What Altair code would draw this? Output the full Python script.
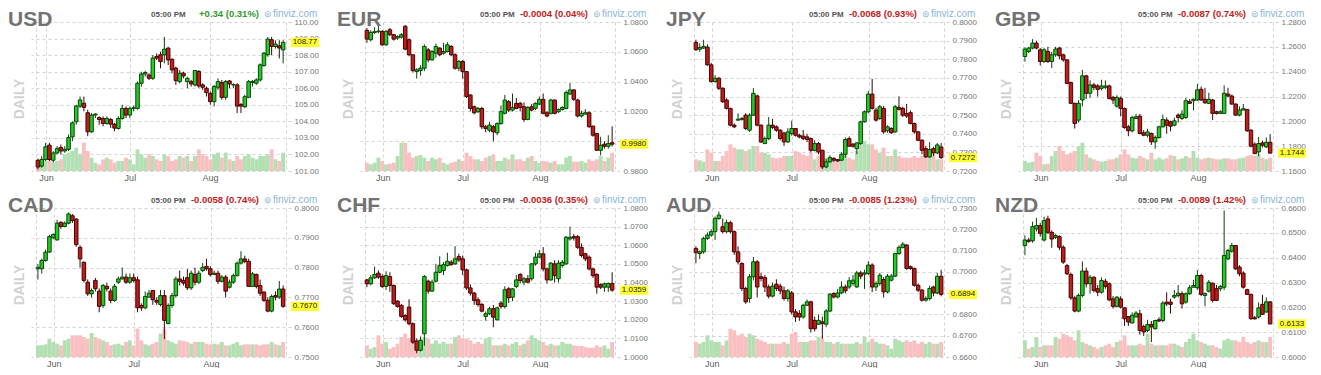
import altair as alt
import pandas as pd

FONT = "Liberation Sans"
W, H = 260, 149
XDOM = [-0.5, 64.75]

# ---------------- USD ----------------
USD_OPEN = [101.65,101.3,101.7,102.56,101.65,102.09,102.42,102.21,102.31,103.06,
            103.97,104.92,105.09,104.52,103.37,104.38,104.22,104.17,103.87,104.11,
            103.83,103.57,104.17,104.78,104.38,104.78,104.78,106.30,106.86,106.80,
            106.60,107.92,108.02,108.02,108.42,107.75,107.21,106.40,106.91,106.40,
            106.40,106.20,107.01,106.20,106.0,105.69,105.19,106.06,106.34,105.45,
            106.44,106.20,106.20,105.02,104.88,105.45,106.34,106.30,106.50,107.37,
            108.02,108.93,108.52,108.56,108.32]
USD_CLOSE = [101.24,101.7,102.46,101.69,102.09,102.35,102.21,102.31,103.02,103.91,
             104.92,105.29,104.84,103.37,104.38,104.44,104.11,103.87,104.17,103.83,
             103.59,104.17,104.78,104.38,104.78,104.82,106.30,106.86,106.95,106.60,
             107.82,107.82,107.61,108.36,107.71,107.11,106.46,106.91,106.74,106.60,
             106.26,107.07,106.14,106.06,105.73,105.19,106.10,106.40,105.45,106.40,
             106.26,106.21,104.92,104.92,105.49,106.40,106.40,106.50,107.41,108.12,
             108.97,108.52,108.67,108.43,108.77]
USD_HIGH = [101.75,101.9,102.7,102.7,102.2,102.5,102.6,102.5,103.2,104.0,
            105.0,105.5,105.5,104.7,104.5,104.5,104.3,104.3,104.3,104.2,
            103.9,104.3,105.0,104.9,104.9,104.95,106.4,107.0,107.05,106.9,
            108.0,108.1,108.2,109.1,108.5,107.8,107.3,107.1,107.0,106.7,
            106.5,107.1,107.1,106.3,106.1,105.8,106.2,106.6,106.5,106.5,
            106.5,106.3,106.3,105.1,105.6,106.5,106.5,106.6,107.5,108.2,
            109.1,109.1,108.9,108.9,108.9]
USD_LOW = [101.1,101.2,101.6,101.6,101.5,102.0,102.0,102.1,102.2,102.8,
           103.8,104.8,104.6,103.1,103.3,104.2,103.8,103.7,103.8,103.6,
           103.4,103.5,104.1,104.2,104.2,104.6,104.7,106.1,106.7,106.5,
           106.5,107.7,107.2,107.5,107.4,106.9,106.2,106.3,106.6,106.0,
           106.1,106.1,106.0,105.9,105.5,105.0,104.9,105.9,105.3,105.3,
           106.0,106.0,104.5,104.5,104.8,105.4,106.1,106.2,106.4,107.3,
           107.9,108.0,108.4,107.8,107.5]
USD_VOL = [24,27,30,30,25,30,35,50,55,60, 70,50,85,60,40,25,20,35,40,35,
           25,30,30,40,35,20,65,50,40,50, 45,35,30,50,45,30,35,45,40,45,
           30,45,65,50,45,35,50,55,40,55, 35,30,45,35,45,50,40,35,45,45,
           50,65,35,30,55]
USD_TICKS = [101,102,103,104,105,106,107,108,109,110]

# ---------------- EUR ----------------
EUR_OPEN = [1.0744,1.0681,1.0730,1.0735,1.0737,1.0647,1.0748,1.0715,1.0692,1.0699,
            1.0771,1.0681,1.0580,1.0467,1.0474,1.0490,1.0613,1.0546,1.0591,1.0625,
            1.0591,1.0602,1.0636,1.0580,1.0490,1.0535,1.0467,1.0310,1.0231,1.0198,
            1.0220,1.0097,1.0074,1.0097,1.0056,1.0119,1.0187,1.0265,1.0209,1.0254,
            1.0254,1.0231,1.0146,1.0231,1.0220,1.0249,1.0281,1.0191,1.0187,1.0276,
            1.0198,1.0213,1.0220,1.0317,1.0344,1.0276,1.0169,1.0182,1.0191,1.0101,
            1.0052,0.9939,0.9980,0.9966,0.9990]
EUR_CLOSE = [1.0685,1.0730,1.0735,1.0739,1.0647,1.0737,1.0715,1.0685,1.0703,1.0715,
             1.0618,1.0580,1.0474,1.0479,1.0490,1.0636,1.0546,1.0602,1.0636,1.0580,
             1.0602,1.0647,1.0580,1.0490,1.0535,1.0467,1.0299,1.0220,1.0191,1.0220,
             1.0097,1.0085,1.0108,1.0063,1.0119,1.0198,1.0276,1.0209,1.0227,1.0220,
             1.0227,1.0146,1.0227,1.0209,1.0254,1.0281,1.0187,1.0169,1.0276,1.0187,
             1.0213,1.0227,1.0326,1.0344,1.0281,1.0169,1.0187,1.0191,1.0097,1.0040,
             0.9939,0.9973,0.9966,0.9984,0.9980]
EUR_HIGH = [1.0760,1.0745,1.0765,1.0780,1.0745,1.0745,1.0760,1.0720,1.0710,1.0725,
            1.0780,1.0690,1.0580,1.0490,1.0510,1.0650,1.0625,1.0610,1.0655,1.0630,
            1.0660,1.0665,1.0645,1.0590,1.0545,1.0545,1.0470,1.0315,1.0240,1.0230,
            1.0230,1.0110,1.0130,1.0110,1.0125,1.0240,1.0310,1.0275,1.0320,1.0290,
            1.0265,1.0260,1.0235,1.0250,1.0260,1.0300,1.0320,1.0200,1.0285,1.0280,
            1.0220,1.0235,1.0340,1.0390,1.0350,1.0285,1.0205,1.0215,1.0200,1.0105,
            1.0055,1.0030,1.0000,1.0040,1.0100]
EUR_LOW = [1.0660,1.0670,1.0720,1.0725,1.0640,1.0640,1.0705,1.0675,1.0680,1.0690,
           1.0610,1.0570,1.0460,1.0420,1.0440,1.0470,1.0530,1.0540,1.0560,1.0570,
           1.0580,1.0595,1.0570,1.0480,1.0470,1.0420,1.0290,1.0200,1.0180,1.0190,
           1.0080,1.0060,1.0060,1.0000,1.0040,1.0110,1.0180,1.0195,1.0200,1.0215,
           1.0200,1.0130,1.0140,1.0200,1.0210,1.0240,1.0180,1.0160,1.0180,1.0180,
           1.0190,1.0205,1.0215,1.0310,1.0270,1.0160,1.0160,1.0180,1.0090,1.0030,
           0.9935,0.9905,0.9950,0.9950,0.9965]
EUR_VOL = [25,20,25,40,30,20,22,25,45,85, 85,55,40,45,48,40,30,40,35,40,
           25,20,25,28,35,30,55,45,35,35, 30,40,45,50,30,30,40,35,50,35,
           35,30,40,45,30,25,30,28,25,30, 20,20,40,45,28,28,30,25,35,30,
           35,45,30,40,55]
EUR_TICKS = [0.98,1.00,1.02,1.04,1.06,1.08]

# ---------------- JPY ----------------
JPY_OPEN = [0.7890,0.7854,0.7860,0.7865,0.7770,0.7680,0.7698,0.7644,0.7581,0.7536,
            0.7446,0.7473,0.7477,0.7500,0.7419,0.7500,0.7603,0.7446,0.7347,0.7374,
            0.7446,0.7437,0.7419,0.7404,0.7356,0.7401,0.7428,0.7392,0.7387,0.7383,
            0.7374,0.7311,0.7347,0.7311,0.7222,0.7249,0.7267,0.7261,0.7258,0.7290,
            0.7374,0.7344,0.7320,0.7347,0.7464,0.7518,0.7613,0.7527,0.7482,0.7536,
            0.7416,0.7428,0.7410,0.7542,0.7536,0.7509,0.7513,0.7455,0.7410,0.7365,
            0.7320,0.7276,0.7320,0.7297,0.7329]
JPY_CLOSE = [0.7851,0.7863,0.7869,0.7770,0.7680,0.7698,0.7644,0.7572,0.7536,0.7446,
             0.7437,0.7478,0.7482,0.7428,0.7500,0.7617,0.7446,0.7356,0.7374,0.7446,
             0.7434,0.7419,0.7374,0.7356,0.7410,0.7428,0.7392,0.7383,0.7374,0.7369,
             0.7311,0.7347,0.7302,0.7222,0.7249,0.7272,0.7258,0.7254,0.7290,0.7369,
             0.7333,0.7333,0.7351,0.7464,0.7518,0.7613,0.7536,0.7473,0.7545,0.7410,
             0.7437,0.7405,0.7545,0.7531,0.7500,0.7495,0.7455,0.7410,0.7365,0.7311,
             0.7276,0.7315,0.7297,0.7340,0.7272]
JPY_HIGH = [0.7905,0.7885,0.7905,0.7880,0.7780,0.7715,0.7705,0.7650,0.7590,0.7540,
            0.7455,0.7510,0.7490,0.7510,0.7510,0.7645,0.7610,0.7450,0.7385,0.7490,
            0.7480,0.7445,0.7425,0.7410,0.7430,0.7470,0.7430,0.7400,0.7420,0.7400,
            0.7380,0.7365,0.7355,0.7315,0.7265,0.7285,0.7275,0.7265,0.7300,0.7380,
            0.7385,0.7350,0.7355,0.7470,0.7525,0.7630,0.7695,0.7540,0.7555,0.7550,
            0.7445,0.7435,0.7555,0.7600,0.7545,0.7560,0.7525,0.7460,0.7415,0.7370,
            0.7335,0.7355,0.7330,0.7350,0.7350]
JPY_LOW = [0.7845,0.7840,0.7855,0.7765,0.7675,0.7675,0.7635,0.7565,0.7530,0.7440,
           0.7430,0.7470,0.7470,0.7420,0.7410,0.7495,0.7440,0.7350,0.7345,0.7365,
           0.7425,0.7410,0.7365,0.7335,0.7350,0.7390,0.7385,0.7375,0.7365,0.7355,
           0.7300,0.7305,0.7290,0.7210,0.7215,0.7245,0.7250,0.7250,0.7255,0.7270,
           0.7330,0.7325,0.7290,0.7340,0.7460,0.7510,0.7530,0.7465,0.7475,0.7400,
           0.7405,0.7400,0.7405,0.7525,0.7490,0.7485,0.7450,0.7400,0.7360,0.7290,
           0.7270,0.7270,0.7280,0.7290,0.7265]
JPY_VOL = [35,32,28,65,55,30,30,45,60,80, 70,65,65,60,65,75,75,55,55,50,
           40,38,40,45,45,45,60,55,50,45, 55,35,45,60,40,35,30,30,40,50,
           40,35,60,80,90,80,80,65,55,70, 45,45,65,45,40,40,40,45,40,45,
           50,45,50,35,35]
JPY_TICKS = [0.72,0.73,0.74,0.75,0.76,0.77,0.78,0.79,0.80]

# ---------------- GBP ----------------
GBP_OPEN = [1.2522,1.2563,1.2590,1.2630,1.2576,1.2482,1.2563,1.2482,1.2536,1.2590,
            1.2536,1.2495,1.2312,1.2145,1.2010,1.2172,1.2366,1.2226,1.2293,1.2285,
            1.2266,1.2274,1.2285,1.2193,1.2123,1.2185,1.2104,1.1956,1.1924,1.2023,
            1.2042,1.1907,1.1888,1.1902,1.1835,1.1870,1.1956,1.2010,1.1996,1.1969,
            1.2050,1.2023,1.2031,1.2158,1.2166,1.2172,1.2258,1.2177,1.2145,1.2172,
            1.2077,1.2064,1.2064,1.2220,1.2204,1.2139,1.2050,1.2091,1.2096,1.1929,
            1.1816,1.1754,1.1826,1.1794,1.1831]
GBP_CLOSE = [1.2582,1.2590,1.2630,1.2590,1.2482,1.2576,1.2482,1.2536,1.2582,1.2528,
             1.2495,1.2306,1.2145,1.1983,1.2145,1.2366,1.2226,1.2293,1.2274,1.2258,
             1.2285,1.2285,1.2185,1.2172,1.2193,1.2104,1.1950,1.1924,1.2031,1.2037,
             1.1902,1.1888,1.1915,1.1835,1.1870,1.1956,1.2015,1.1969,1.1961,1.2004,
             1.2031,1.2058,1.2166,1.2145,1.2177,1.2253,1.2172,1.2150,1.2177,1.2064,
             1.2064,1.2077,1.2226,1.2204,1.2139,1.2050,1.2091,1.2101,1.1924,1.1800,
             1.1740,1.1821,1.1808,1.1831,1.1744]
GBP_HIGH = [1.2595,1.2600,1.2662,1.2650,1.2590,1.2590,1.2600,1.2560,1.2600,1.2600,
            1.2545,1.2500,1.2320,1.2150,1.2170,1.2414,1.2375,1.2330,1.2310,1.2300,
            1.2335,1.2330,1.2295,1.2205,1.2210,1.2200,1.2110,1.1970,1.2045,1.2060,
            1.2060,1.1930,1.1940,1.1910,1.1885,1.1965,1.2055,1.2030,1.2005,1.2030,
            1.2065,1.2090,1.2190,1.2180,1.2185,1.2301,1.2280,1.2270,1.2230,1.2180,
            1.2085,1.2090,1.2290,1.2270,1.2215,1.2145,1.2120,1.2140,1.2100,1.1935,
            1.1830,1.1875,1.1845,1.1870,1.1897]
GBP_LOW = [1.2480,1.2550,1.2580,1.2580,1.2450,1.2470,1.2470,1.2430,1.2520,1.2500,
           1.2480,1.2300,1.2140,1.1942,1.1990,1.2120,1.2180,1.2190,1.2250,1.2200,
           1.2250,1.2260,1.2175,1.2140,1.2110,1.2040,1.1940,1.1880,1.1910,1.2020,
           1.1895,1.1880,1.1870,1.1810,1.1780,1.1860,1.1950,1.1900,1.1920,1.1960,
           1.1990,1.2010,1.2020,1.2140,1.2090,1.2165,1.2165,1.2140,1.2140,1.2010,
           1.2055,1.2060,1.2060,1.2195,1.2135,1.2045,1.2040,1.2090,1.1915,1.1790,
           1.1740,1.1719,1.1790,1.1785,1.1740]
GBP_VOL = [30,25,28,55,45,20,22,45,60,75, 60,50,55,60,75,85,50,40,35,30,
           28,30,35,35,40,50,65,50,40,38, 45,40,35,55,35,40,35,38,48,45,
           35,38,45,40,60,40,35,38,40,38, 35,35,38,38,35,35,38,40,45,48,
           45,50,40,35,40]
GBP_TICKS = [1.16,1.18,1.20,1.22,1.24,1.26,1.28]

# ---------------- CAD ----------------
CAD_OPEN = [0.7796,0.7796,0.7824,0.7852,0.7900,0.7893,0.7952,0.7938,0.7949,0.7974,
            0.7963,0.7868,0.7818,0.7751,0.7712,0.7757,0.7721,0.7673,0.7737,0.7721,
            0.7690,0.7751,0.7762,0.7768,0.7751,0.7766,0.7759,0.7673,0.7665,0.7701,
            0.7723,0.7690,0.7676,0.7706,0.7612,0.7673,0.7706,0.7762,0.7757,0.7766,
            0.7732,0.7777,0.7751,0.7790,0.7804,0.7796,0.7777,0.7781,0.7754,0.7768,
            0.7734,0.7751,0.7773,0.7815,0.7829,0.7821,0.7737,0.7777,0.7740,0.7718,
            0.7690,0.7654,0.7706,0.7701,0.7728]
CAD_CLOSE = [0.7801,0.7824,0.7852,0.7904,0.7911,0.7949,0.7938,0.7949,0.7980,0.7958,
             0.7877,0.7829,0.7757,0.7712,0.7723,0.7729,0.7670,0.7740,0.7729,0.7690,
             0.7737,0.7762,0.7768,0.7751,0.7766,0.7757,0.7665,0.7665,0.7703,0.7714,
             0.7692,0.7684,0.7706,0.7623,0.7673,0.7706,0.7762,0.7754,0.7748,0.7732,
             0.7781,0.7751,0.7781,0.7801,0.7796,0.7777,0.7781,0.7754,0.7768,0.7721,
             0.7751,0.7773,0.7815,0.7829,0.7821,0.7737,0.7779,0.7737,0.7714,0.7690,
             0.7654,0.7703,0.7701,0.7728,0.7670]
CAD_HIGH = [0.7812,0.7830,0.7860,0.7910,0.7915,0.7960,0.7955,0.7955,0.7985,0.7980,
            0.7965,0.7875,0.7820,0.7760,0.7730,0.7765,0.7730,0.7745,0.7750,0.7730,
            0.7745,0.7770,0.7800,0.7780,0.7780,0.7780,0.7770,0.7680,0.7720,0.7725,
            0.7725,0.7700,0.7725,0.7725,0.7680,0.7715,0.7770,0.7790,0.7770,0.7795,
            0.7790,0.7800,0.7790,0.7815,0.7830,0.7805,0.7790,0.7790,0.7775,0.7775,
            0.7760,0.7780,0.7820,0.7855,0.7840,0.7830,0.7785,0.7780,0.7760,0.7720,
            0.7700,0.7710,0.7720,0.7755,0.7740]
CAD_LOW = [0.7760,0.7780,0.7820,0.7850,0.7895,0.7890,0.7930,0.7935,0.7945,0.7950,
           0.7870,0.7800,0.7750,0.7705,0.7700,0.7720,0.7650,0.7665,0.7720,0.7680,
           0.7685,0.7745,0.7760,0.7745,0.7745,0.7750,0.7650,0.7655,0.7660,0.7700,
           0.7675,0.7675,0.7670,0.7560,0.7610,0.7665,0.7700,0.7740,0.7740,0.7725,
           0.7725,0.7740,0.7745,0.7785,0.7790,0.7770,0.7775,0.7745,0.7750,0.7700,
           0.7730,0.7745,0.7770,0.7810,0.7815,0.7735,0.7735,0.7730,0.7705,0.7685,
           0.7650,0.7650,0.7690,0.7695,0.7665]
CAD_VOL = [35,35,38,55,45,40,35,50,55,65, 65,65,60,55,72,60,55,50,45,35,
           38,40,35,45,50,35,85,50,38,35, 40,45,70,85,50,45,40,50,48,45,
           40,45,45,45,40,38,40,38,45,35, 35,40,45,35,38,38,38,38,35,38,
           38,45,38,35,45]
CAD_TICKS = [0.75,0.76,0.77,0.78,0.79,0.80]

# ---------------- CHF ----------------
CHF_OPEN = [1.0414,1.0393,1.0425,1.0450,1.0432,1.0379,1.0432,1.0384,1.0300,1.0277,
            1.0223,1.0268,1.0179,1.0086,1.0036,1.0125,1.0407,1.0354,1.0407,1.0455,
            1.0464,1.0491,1.0509,1.0500,1.0539,1.0527,1.0468,1.0371,1.0343,1.0307,
            1.0282,1.0218,1.0232,1.0259,1.0200,1.0289,1.0271,1.0366,1.0321,1.0379,
            1.0443,1.0402,1.0420,1.0420,1.0500,1.0536,1.0554,1.0473,1.0414,1.0500,
            1.0420,1.0491,1.0500,1.0634,1.0646,1.0646,1.0589,1.0554,1.0536,1.0473,
            1.0443,1.0389,1.0375,1.0375,1.0395]
CHF_CLOSE = [1.0393,1.0425,1.0443,1.0429,1.0379,1.0437,1.0384,1.0286,1.0271,1.0218,
             1.0200,1.0179,1.0080,1.0036,1.0089,1.0432,1.0354,1.0402,1.0455,1.0491,
             1.0496,1.0514,1.0496,1.0527,1.0521,1.0468,1.0371,1.0343,1.0304,1.0282,
             1.0246,1.0232,1.0259,1.0214,1.0264,1.0271,1.0361,1.0318,1.0366,1.0414,
             1.0411,1.0420,1.0402,1.0500,1.0536,1.0554,1.0473,1.0414,1.0504,1.0437,
             1.0504,1.0509,1.0643,1.0643,1.0639,1.0589,1.0545,1.0527,1.0473,1.0437,
             1.0375,1.0375,1.0393,1.0395,1.0359]
CHF_HIGH = [1.0420,1.0440,1.0485,1.0465,1.0445,1.0460,1.0455,1.0390,1.0305,1.0285,
            1.0230,1.0310,1.0185,1.0100,1.0110,1.0440,1.0415,1.0415,1.0500,1.0540,
            1.0510,1.0560,1.0520,1.0595,1.0555,1.0545,1.0475,1.0390,1.0350,1.0320,
            1.0290,1.0245,1.0270,1.0280,1.0270,1.0300,1.0380,1.0375,1.0370,1.0440,
            1.0450,1.0430,1.0440,1.0505,1.0560,1.0575,1.0590,1.0480,1.0510,1.0520,
            1.0520,1.0520,1.0650,1.0700,1.0660,1.0655,1.0610,1.0560,1.0545,1.0480,
            1.0450,1.0395,1.0400,1.0400,1.0455]
CHF_LOW = [1.0375,1.0385,1.0420,1.0420,1.0370,1.0360,1.0350,1.0280,1.0265,1.0210,
           1.0190,1.0170,1.0070,1.0020,1.0030,1.0060,1.0340,1.0350,1.0400,1.0450,
           1.0440,1.0485,1.0490,1.0495,1.0510,1.0440,1.0360,1.0330,1.0280,1.0270,
           1.0240,1.0195,1.0225,1.0160,1.0195,1.0260,1.0260,1.0290,1.0300,1.0370,
           1.0395,1.0385,1.0395,1.0410,1.0490,1.0530,1.0460,1.0395,1.0410,1.0400,
           1.0400,1.0480,1.0495,1.0625,1.0625,1.0580,1.0535,1.0515,1.0465,1.0425,
           1.0340,1.0365,1.0350,1.0350,1.0350]
CHF_VOL = [35,25,30,65,40,45,25,30,40,60, 70,55,60,35,55,60,55,40,50,40,
           45,40,40,60,65,55,55,50,40,45, 40,55,60,35,35,35,40,35,40,45,
           35,40,50,65,55,50,45,35,40,35, 35,45,40,40,35,33,33,30,28,28,
           35,30,35,25,45]
CHF_TICKS = [1.00,1.01,1.02,1.03,1.04,1.05,1.06,1.07,1.08]

# ---------------- AUD ----------------
AUD_OPEN = [0.7110,0.7086,0.7094,0.7157,0.7173,0.7189,0.7251,0.7212,0.7189,0.7231,
            0.7189,0.7094,0.7039,0.6922,0.6875,0.6977,0.7047,0.6977,0.6973,0.6929,
            0.6886,0.6942,0.6933,0.6911,0.6875,0.6901,0.6812,0.6804,0.6788,0.6843,
            0.6859,0.6772,0.6754,0.6765,0.6754,0.6816,0.6898,0.6882,0.6901,0.6929,
            0.6929,0.6945,0.6929,0.6995,0.6989,0.6992,0.7032,0.6929,0.6945,0.6964,
            0.6906,0.6961,0.6980,0.7086,0.7115,0.7126,0.7024,0.7016,0.6937,0.6914,
            0.6867,0.6875,0.6929,0.6901,0.6979]
AUD_CLOSE = [0.7090,0.7094,0.7157,0.7173,0.7189,0.7251,0.7267,0.7189,0.7231,0.7189,
             0.7094,0.7047,0.6922,0.6859,0.6977,0.7047,0.6929,0.6969,0.6929,0.6886,
             0.6933,0.6922,0.6911,0.6875,0.6911,0.6812,0.6788,0.6788,0.6843,0.6859,
             0.6733,0.6733,0.6772,0.6757,0.6816,0.6895,0.6882,0.6901,0.6929,0.6911,
             0.6958,0.6961,0.6995,0.6980,0.6995,0.7032,0.6929,0.6945,0.6984,0.6906,
             0.6980,0.6980,0.7086,0.7115,0.7130,0.7016,0.7016,0.6937,0.6914,0.6867,
             0.6875,0.6922,0.6901,0.6979,0.6894]
AUD_HIGH = [0.7120,0.7100,0.7165,0.7185,0.7200,0.7260,0.7283,0.7250,0.7245,0.7240,
            0.7195,0.7120,0.7045,0.6930,0.6990,0.7070,0.7055,0.6995,0.6985,0.6940,
            0.6950,0.6965,0.6945,0.6930,0.6920,0.6910,0.6825,0.6820,0.6850,0.6870,
            0.6865,0.6790,0.6800,0.6790,0.6825,0.6900,0.6905,0.6920,0.6955,0.6940,
            0.6975,0.6985,0.7005,0.7005,0.7010,0.7050,0.7040,0.6955,0.6995,0.6975,
            0.6990,0.6990,0.7090,0.7125,0.7140,0.7130,0.7030,0.7020,0.6945,0.6920,
            0.6885,0.6935,0.6935,0.6995,0.7010]
AUD_LOW = [0.7040,0.7060,0.7085,0.7150,0.7165,0.7150,0.7245,0.7180,0.7180,0.7180,
           0.7080,0.7035,0.6910,0.6850,0.6855,0.6960,0.6880,0.6955,0.6905,0.6875,
           0.6880,0.6910,0.6895,0.6865,0.6860,0.6800,0.6765,0.6770,0.6780,0.6840,
           0.6715,0.6720,0.6750,0.6685,0.6740,0.6810,0.6875,0.6875,0.6895,0.6900,
           0.6920,0.6935,0.6925,0.6965,0.6920,0.6985,0.6905,0.6910,0.6935,0.6880,
           0.6900,0.6955,0.6975,0.7080,0.7110,0.7010,0.7010,0.6930,0.6905,0.6860,
           0.6860,0.6865,0.6885,0.6895,0.6885]
AUD_VOL = [45,40,45,65,50,45,45,35,50,85, 80,65,70,60,70,65,55,50,45,40,
           40,40,40,45,40,70,75,45,45,45, 50,50,60,55,45,45,40,45,40,40,
           40,40,45,40,60,45,55,45,40,40, 35,25,55,50,45,50,45,50,40,45,
           40,45,40,40,45]
AUD_TICKS = [0.66,0.67,0.68,0.69,0.70,0.71,0.72,0.73]

# ---------------- NZD ----------------
NZD_OPEN = [0.6449,0.6471,0.6468,0.6516,0.6529,0.6471,0.6556,0.6502,0.6482,0.6485,
            0.6442,0.6368,0.6332,0.6238,0.6185,0.6248,0.6346,0.6295,0.6321,0.6275,
            0.6261,0.6305,0.6295,0.6234,0.6204,0.6234,0.6198,0.6163,0.6137,0.6161,
            0.6174,0.6123,0.6107,0.6131,0.6114,0.6150,0.6147,0.6221,0.6221,0.6241,
            0.6248,0.6255,0.6221,0.6255,0.6281,0.6279,0.6328,0.6248,0.6265,0.6297,
            0.6275,0.6275,0.6281,0.6395,0.6426,0.6449,0.6362,0.6338,0.6271,0.6252,
            0.6158,0.6161,0.6212,0.6181,0.6222]
NZD_CLOSE = [0.6471,0.6466,0.6525,0.6529,0.6498,0.6549,0.6502,0.6475,0.6489,0.6442,
             0.6382,0.6335,0.6238,0.6185,0.6248,0.6346,0.6295,0.6321,0.6268,0.6261,
             0.6308,0.6284,0.6230,0.6204,0.6241,0.6201,0.6154,0.6141,0.6168,0.6177,
             0.6107,0.6101,0.6131,0.6121,0.6147,0.6145,0.6217,0.6214,0.6212,0.6248,
             0.6257,0.6214,0.6255,0.6279,0.6288,0.6328,0.6252,0.6255,0.6301,0.6228,
             0.6228,0.6284,0.6409,0.6429,0.6449,0.6355,0.6335,0.6281,0.6252,0.6154,
             0.6154,0.6198,0.6172,0.6222,0.6133]
NZD_HIGH = [0.6490,0.6480,0.6545,0.6560,0.6540,0.6565,0.6569,0.6510,0.6495,0.6490,
            0.6450,0.6375,0.6340,0.6245,0.6255,0.6385,0.6360,0.6330,0.6325,0.6290,
            0.6320,0.6315,0.6300,0.6245,0.6245,0.6245,0.6200,0.6165,0.6180,0.6185,
            0.6190,0.6130,0.6150,0.6145,0.6150,0.6160,0.6225,0.6260,0.6235,0.6270,
            0.6290,0.6265,0.6260,0.6290,0.6310,0.6350,0.6335,0.6260,0.6310,0.6300,
            0.6290,0.6290,0.6590,0.6435,0.6460,0.6450,0.6370,0.6345,0.6275,0.6255,
            0.6165,0.6220,0.6250,0.6240,0.6225]
NZD_LOW = [0.6410,0.6460,0.6460,0.6505,0.6485,0.6465,0.6495,0.6440,0.6475,0.6430,
           0.6375,0.6330,0.6230,0.6180,0.6180,0.6240,0.6280,0.6255,0.6260,0.6245,
           0.6255,0.6275,0.6225,0.6195,0.6200,0.6195,0.6125,0.6125,0.6135,0.6160,
           0.6090,0.6085,0.6100,0.6060,0.6110,0.6140,0.6140,0.6205,0.6175,0.6235,
           0.6240,0.6195,0.6215,0.6250,0.6280,0.6270,0.6245,0.6205,0.6260,0.6220,
           0.6225,0.6265,0.6270,0.6390,0.6420,0.6350,0.6325,0.6275,0.6250,0.6150,
           0.6150,0.6155,0.6170,0.6180,0.6133]
NZD_VOL = [50,25,30,60,30,35,35,35,60,55, 70,65,60,50,80,45,40,35,30,25,
           30,35,40,30,45,50,65,35,35,35, 40,35,70,40,35,35,35,35,40,40,
           35,30,45,55,70,50,45,40,35,35, 30,25,50,55,50,50,45,60,45,40,
           45,50,45,45,60]
NZD_TICKS = [0.60,0.61,0.62,0.63,0.64,0.65,0.66]

# month gridline positions (candle index) and labels
USD_MONTHS = [2.1, 24.0, 44.9]
OTHER_MONTHS = [4.15, 25.0, 45.2]
MONTH_NAMES = ["Jun", "Jul", "Aug"]

PANELS = [
    dict(name="USD", o=USD_OPEN, c=USD_CLOSE, h=USD_HIGH, l=USD_LOW, v=USD_VOL,
         dom=[101, 110], ticks=USD_TICKS, fmt=".2f", chg="+0.34 (0.31%)", up=True,
         last="108.77", months=USD_MONTHS),
    dict(name="EUR", o=EUR_OPEN, c=EUR_CLOSE, h=EUR_HIGH, l=EUR_LOW, v=EUR_VOL,
         dom=[0.98, 1.08], ticks=EUR_TICKS, fmt=".4f", chg="-0.0004 (0.04%)", up=False,
         last="0.9980", months=OTHER_MONTHS),
    dict(name="JPY", o=JPY_OPEN, c=JPY_CLOSE, h=JPY_HIGH, l=JPY_LOW, v=JPY_VOL,
         dom=[0.72, 0.80], ticks=JPY_TICKS, fmt=".4f", chg="-0.0068 (0.93%)", up=False,
         last="0.7272", months=OTHER_MONTHS),
    dict(name="GBP", o=GBP_OPEN, c=GBP_CLOSE, h=GBP_HIGH, l=GBP_LOW, v=GBP_VOL,
         dom=[1.16, 1.28], ticks=GBP_TICKS, fmt=".4f", chg="-0.0087 (0.74%)", up=False,
         last="1.1744", months=OTHER_MONTHS),
    dict(name="CAD", o=CAD_OPEN, c=CAD_CLOSE, h=CAD_HIGH, l=CAD_LOW, v=CAD_VOL,
         dom=[0.75, 0.80], ticks=CAD_TICKS, fmt=".4f", chg="-0.0058 (0.74%)", up=False,
         last="0.7670", months=OTHER_MONTHS),
    dict(name="CHF", o=CHF_OPEN, c=CHF_CLOSE, h=CHF_HIGH, l=CHF_LOW, v=CHF_VOL,
         dom=[1.00, 1.08], ticks=CHF_TICKS, fmt=".4f", chg="-0.0036 (0.35%)", up=False,
         last="1.0359", months=OTHER_MONTHS),
    dict(name="AUD", o=AUD_OPEN, c=AUD_CLOSE, h=AUD_HIGH, l=AUD_LOW, v=AUD_VOL,
         dom=[0.66, 0.73], ticks=AUD_TICKS, fmt=".4f", chg="-0.0085 (1.23%)", up=False,
         last="0.6894", months=OTHER_MONTHS),
    dict(name="NZD", o=NZD_OPEN, c=NZD_CLOSE, h=NZD_HIGH, l=NZD_LOW, v=NZD_VOL,
         dom=[0.60, 0.66], ticks=NZD_TICKS, fmt=".4f", chg="-0.0089 (1.42%)", up=False,
         last="0.6133", months=OTHER_MONTHS),
]

VOL_FULL = 447.0  # volume units spanning the whole plot height
GRID = "#d2d2d2"
BOX_PATH = "M-1,-0.33L1,-0.33L1,0.33L-1,0.33Z"


def text_layer(s, x, y, **kw):
    return alt.Chart(pd.DataFrame({"t": [s]})).mark_text(font=FONT, **kw).encode(
        text="t:N", x=alt.value(x), y=alt.value(y))


def panel(p):
    ymin, ymax = p["dom"]
    n = len(p["c"])
    df = pd.DataFrame({"i": list(range(n)), "o": p["o"], "c": p["c"],
                       "h": p["h"], "l": p["l"], "v": p["v"]})
    df["vlo"] = ymin
    df["vhi"] = ymin + df["v"] / VOL_FULL * (ymax - ymin)

    m = p["months"]
    label_expr = (f"abs(datum.value - {m[0]}) < 0.01 ? '{MONTH_NAMES[0]}' : "
                  f"abs(datum.value - {m[1]}) < 0.01 ? '{MONTH_NAMES[1]}' : "
                  f"abs(datum.value - {m[2]}) < 0.01 ? '{MONTH_NAMES[2]}' : ''")
    xs = alt.Scale(domain=XDOM, nice=False, zero=False)
    ys = alt.Scale(domain=[ymin, ymax], nice=False, zero=False)
    xaxis = alt.Axis(values=[XDOM[0]] + m + [XDOM[1]], labelExpr=label_expr,
                     grid=True, gridDash=[3, 3], gridColor=GRID, gridWidth=1,
                     domain=False, ticks=False, labelColor="#5e5e5e", labelFontSize=9,
                     labelFont=FONT, labelPadding=2, title=None, labelFlush=False,
                     labelOverlap=False, zindex=0)
    yaxis = alt.Axis(orient="right", values=p["ticks"], format=p["fmt"],
                     grid=True, gridDash=[3, 3], gridColor=GRID, gridWidth=1,
                     domain=False, ticks=False, labelColor="#767676", labelFontSize=8,
                     labelFont=FONT, labelPadding=3, title=None, labelOverlap=False,
                     labelFlush=False, zindex=0)

    up = "datum.c >= datum.o"
    base = alt.Chart(df)
    X = alt.X("i:Q", scale=xs, axis=xaxis)
    vol = base.mark_bar(size=3.9).encode(
        x=X,
        y=alt.Y("vlo:Q", scale=ys, axis=yaxis),
        y2="vhi:Q",
        color=alt.condition(up, alt.value("#b3e0b3"), alt.value("#f8c0c0")),
    )
    wick = base.mark_rule(strokeWidth=1).encode(
        x=X,
        y=alt.Y("l:Q", scale=ys, axis=yaxis),
        y2="h:Q",
        color=alt.condition(up, alt.value("#0c420c"), alt.value("#3f0606")),
    )
    body = base.mark_bar(size=3.5, strokeWidth=1).encode(
        x=X,
        y=alt.Y("o:Q", scale=ys, axis=yaxis),
        y2="c:Q",
        fill=alt.condition(up, alt.value("#22cc22"), alt.value("#c41a1a")),
        stroke=alt.condition(up, alt.value("#0c420c"), alt.value("#3f0606")),
    )
    last_df = pd.DataFrame({"y": [p["c"][-1]], "t": [p["last"]]})
    box = alt.Chart(last_df).mark_point(shape=BOX_PATH, size=784, filled=True,
                                        opacity=1, fill="#ffff2e", strokeWidth=0).encode(
        x=alt.value(W + 14), y=alt.Y("y:Q", scale=ys, axis=yaxis))
    box_txt = alt.Chart(last_df).mark_text(font=FONT, fontSize=8, color="#222222",
                                           align="center", baseline="middle").encode(
        x=alt.value(W + 14), y=alt.Y("y:Q", scale=ys, axis=yaxis), text="t:N")

    title = text_layer(p["name"], -23, 3.5, fontSize=21, fontWeight="bold",
                       color="#727272", align="left", baseline="alphabetic")
    daily = text_layer("DAILY", -11, 77, fontSize=14, fontWeight="bold",
                       color="#d2d2d2", align="center", baseline="middle", angle=270)
    time_t = text_layer("05:00 PM", 120, -5, fontSize=8, fontWeight="bold",
                        color="#555555", align="left", baseline="alphabetic")
    chg_t = text_layer(p["chg"], 228, -5, fontSize=9.5, fontWeight="bold",
                       color="#2e9a2e" if p["up"] else "#c42020",
                       align="right", baseline="alphabetic")
    icon = text_layer("\u229c", 237, -5, fontSize=9, color="#8ab6d6",
                      align="center", baseline="alphabetic")
    fv = text_layer("finviz.com", 242, -5, fontSize=10, color="#8ab6d6",
                    align="left", baseline="alphabetic")

    return alt.layer(vol, wick, body, box, box_txt, title, daily, time_t, chg_t, icon, fv
                     ).properties(width=W, height=H)


chart = (alt.concat(*[panel(p) for p in PANELS], columns=4,
                    spacing={"row": 37, "column": 69}, bounds="flush")
         .properties(padding=0)
         .configure_view(stroke=None))

chart.save("out.html", embed_options={"renderer": "svg", "actions": False})
